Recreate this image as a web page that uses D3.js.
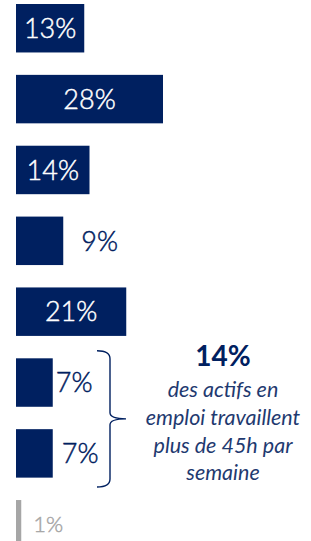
<!DOCTYPE html>
<html>
<head>
<meta charset="utf-8">
<script src="https://cdn.jsdelivr.net/npm/d3@7"></script>
<style>
  body { margin: 0; background: #ffffff; }
  svg { display: block; }
</style>
</head>
<body>
<script>
const categories = ["c1", "c2", "c3", "c4", "c5", "c6", "c7", "c8"];
const values = [13, 28, 14, 9, 21, 7, 7, 1];
const labelInside = [true, true, true, false, true, false, false, false];
const labelGap = [0, 0, 0, 18, 0, 3, 9, 12];
const barColors = ["#002060", "#002060", "#002060", "#002060", "#002060", "#002060", "#002060", "#a6a6a6"];
const braceGroup = ["c6", "c7"];
const noteLines = ["des actifs en", "emploi travaillent", "plus de 45h par", "semaine"];

const wSvg = 311;
const hSvg = 541;
const navy = "#002060";
const font = "Lato, 'Open Sans', sans-serif";

const svg = d3.select("body")
    .append("svg")
    .attr("width", wSvg)
    .attr("height", hSvg);

const xScale = d3.scaleLinear([0, 28], [16, 163]);
const yScale = d3.scaleBand(categories, [4, 548.5])
    .paddingInner(0.316)
    .paddingOuter(0);

const data = categories.map((c, i) => ({
    cat: c,
    value: values[i],
    inside: labelInside[i],
    gap: labelGap[i],
    color: barColors[i]
}));

svg.append("g")
    .selectAll("rect")
    .data(data)
    .enter()
    .append("rect")
    .attr("x", xScale(0))
    .attr("y", d => yScale(d.cat))
    .attr("width", d => xScale(d.value) - xScale(0))
    .attr("height", yScale.bandwidth())
    .attr("fill", d => d.color);

const labelColor = d => d.inside ? "#ffffff" : (d.color === "#a6a6a6" ? "#a6a6a6" : navy);

svg.append("g")
    .selectAll("text")
    .data(data)
    .enter()
    .append("text")
    .attr("x", d => d.inside ? (xScale(0) + xScale(d.value)) / 2 : xScale(d.value) + d.gap)
    .attr("y", d => yScale(d.cat) + yScale.bandwidth() / 2)
    .attr("dy", "0.36em")
    .attr("text-anchor", d => d.inside ? "middle" : "start")
    .attr("font-family", font)
    .attr("font-weight", 300)
    .attr("font-size", d => d.value < 2 ? 22 : 27)
    .attr("fill", labelColor)
    .attr("stroke", labelColor)
    .attr("stroke-width", 0.45)
    .text(d => d.value + "%");

// brace around the last navy bars
const braceTop = yScale(braceGroup[0]) - 7.6;
const braceBottom = yScale(braceGroup[1]) + yScale.bandwidth() + 9.4;
const mid = (braceTop + braceBottom) / 2;
const bx = 110;
const p = d3.path();
p.moveTo(bx - 13, braceTop);
p.quadraticCurveTo(bx, braceTop, bx, braceTop + 8);
p.lineTo(bx, mid - 6);
p.quadraticCurveTo(bx, mid, bx + 16, mid);
p.quadraticCurveTo(bx, mid, bx, mid + 6);
p.lineTo(bx, braceBottom - 8);
p.quadraticCurveTo(bx, braceBottom, bx - 13, braceBottom);
svg.append("path")
    .attr("d", p.toString())
    .attr("fill", "none")
    .attr("stroke", navy)
    .attr("stroke-width", 1.4);

const total = d3.sum(data.filter(d => braceGroup.includes(d.cat)), d => d.value);
const noteX = 223;

svg.append("text")
    .attr("x", noteX)
    .attr("y", 366)
    .attr("text-anchor", "middle")
    .attr("font-family", font)
    .attr("font-weight", "bold")
    .attr("font-size", 28)
    .attr("fill", navy)
    .text(total + "%");

svg.append("g")
    .selectAll("text")
    .data(noteLines)
    .enter()
    .append("text")
    .attr("x", noteX)
    .attr("y", (d, i) => 397 + i * 27.8)
    .attr("text-anchor", "middle")
    .attr("font-family", font)
    .attr("font-style", "italic")
    .attr("font-size", 21.5)
    .attr("fill", "#1f3a70")
    .text(d => d);
</script>
</body>
</html>
